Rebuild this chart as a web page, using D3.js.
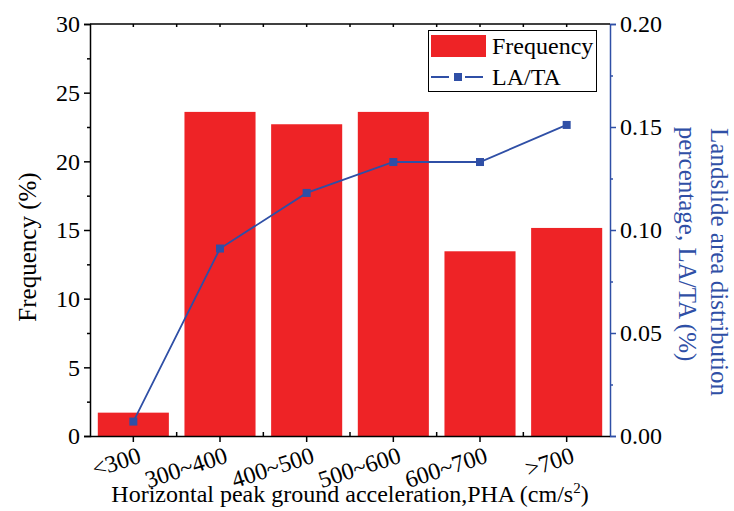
<!DOCTYPE html>
<html><head><meta charset="utf-8">
<script src="https://cdn.jsdelivr.net/npm/d3@7"></script>
<style>body{margin:0;background:#fff}svg{display:block}</style>
</head><body><svg id="c" width="734" height="511"></svg>
<script>
const categories = ["<300","300~400","400~500","500~600","600~700",">700"];
const frequency = [1.7, 23.6, 22.7, 23.6, 13.45, 15.15];
const lata = [0.007, 0.091, 0.118, 0.133, 0.133, 0.151];
const leftTicks = [0,5,10,15,20,25,30];
const rightTicks = [0,0.05,0.10,0.15,0.20];

const svg = d3.select("#c");
const L = 90, R = 610, T = 24, B = 436;
const red = "#ee2326", blue = "#2f4fa6";
const font = "Liberation Serif";
const fs = 24, fsT = 25;

const x = d3.scaleBand().domain(categories).range([L, R]).paddingInner(0.18).paddingOuter(0.09);
const xc = d3.scaleBand().domain(categories).range([L, R]).padding(0);
const yL = d3.scaleLinear().domain([0,30]).range([B, T]);
const yR = d3.scaleLinear().domain([0,0.20]).range([B, T]);

// bars
svg.append("g").selectAll("rect").data(categories).join("rect")
  .attr("x", d => x(d)).attr("width", x.bandwidth())
  .attr("y", (d,i) => yL(frequency[i])).attr("height", (d,i) => B - yL(frequency[i]))
  .attr("fill", red);

// left axis
const gl = svg.append("g").attr("transform", `translate(${L},0)`)
  .call(d3.axisLeft(yL).tickValues(leftTicks).tickSize(6).tickPadding(4).tickFormat(d3.format("d")));
gl.selectAll("text").attr("font-family", font).attr("font-size", fs).attr("fill", "#000");
gl.select(".domain").attr("stroke", "#000").attr("stroke-width", 1.5);
gl.selectAll("line").attr("stroke-width", 1.5);
svg.append("g").attr("transform", `translate(${L},0)`)
  .call(d3.axisLeft(yL).tickValues(d3.range(2.5,30,5)).tickSize(3).tickFormat(""))
  .call(g => g.select(".domain").remove()).selectAll("line").attr("stroke-width", 1.5);

// right axis
const gr = svg.append("g").attr("transform", `translate(${R},0)`)
  .call(d3.axisRight(yR).tickValues(rightTicks).tickSize(6).tickPadding(4).tickFormat(d3.format(".2f")));
gr.selectAll("text").attr("font-family", font).attr("font-size", fs).attr("fill", "#000");
gr.select(".domain").attr("stroke", blue).attr("stroke-width", 1.5);
gr.selectAll("line").attr("stroke", blue).attr("stroke-width", 1.5);
svg.append("g").attr("transform", `translate(${R},0)`)
  .call(d3.axisRight(yR).tickValues(d3.range(0.025,0.2,0.05)).tickSize(3).tickFormat(""))
  .call(g => g.select(".domain").remove()).selectAll("line").attr("stroke", blue).attr("stroke-width", 1.5);

// bottom axis
const gb = svg.append("g").attr("transform", `translate(0,${B})`)
  .call(d3.axisBottom(xc).tickSize(6).tickFormat(""));
gb.select(".domain").attr("stroke-width", 1.5).attr("d", `M${L},0.5H${R}`);
gb.selectAll("line").attr("stroke-width", 1.5);
svg.append("g").selectAll("line").data(categories.slice(1)).join("line")
  .attr("x1", d => xc(d)).attr("x2", d => xc(d)).attr("y1", B).attr("y2", B - 4)
  .attr("stroke", "#000").attr("stroke-width", 1.5);
svg.append("g").selectAll("text").data(categories).join("text")
  .attr("transform", d => `translate(${xc(d) + xc.bandwidth()/2 + 9},${B + 26}) rotate(-18)`)
  .attr("text-anchor", "end").attr("font-family", font).attr("font-size", fs).text(d => d);

// top axis
svg.append("line").attr("x1", L).attr("x2", R).attr("y1", T).attr("y2", T).attr("stroke", "#000").attr("stroke-width", 1.5);
const topTicks = categories.map(d => xc(d) + xc.bandwidth()/2).concat(categories.slice(1).map(d => xc(d)));
svg.append("g").selectAll("line").data(topTicks).join("line")
  .attr("x1", d => d).attr("x2", d => d).attr("y1", T).attr("y2", T + 3)
  .attr("stroke", "#000").attr("stroke-width", 1.5);

// line series
const cx = d => xc(d) + xc.bandwidth()/2;
const line = d3.line().x((d,i) => cx(categories[i])).y(d => yR(d));
svg.append("path").datum(lata).attr("d", line).attr("fill", "none").attr("stroke", blue).attr("stroke-width", 1.8);
svg.append("g").selectAll("rect").data(lata).join("rect")
  .attr("x", (d,i) => cx(categories[i]) - 4).attr("y", d => yR(d) - 4)
  .attr("width", 8).attr("height", 8).attr("fill", blue);

// legend
const lg = svg.append("g");
lg.append("rect").attr("x", 428.5).attr("y", 30.5).attr("width", 168).attr("height", 61)
  .attr("fill", "#fff").attr("stroke", "#000").attr("stroke-width", 1);
lg.append("rect").attr("x", 431).attr("y", 35).attr("width", 55).attr("height", 22).attr("fill", red);
lg.append("text").attr("x", 492).attr("y", 54).attr("font-family", font).attr("font-size", fs).text("Frequency");
lg.append("line").attr("x1", 431).attr("x2", 485).attr("y1", 77).attr("y2", 77)
  .attr("stroke", blue).attr("stroke-width", 1.8).attr("stroke-dasharray", "18,8,0,8,18");
lg.append("rect").attr("x", 454).attr("y", 73).attr("width", 8).attr("height", 8).attr("fill", blue);
lg.append("text").attr("x", 492).attr("y", 85).attr("font-family", font).attr("font-size", fs).text("LA/TA");

// axis titles
svg.append("text").attr("transform", `translate(36,247) rotate(-90)`)
  .attr("text-anchor", "middle").attr("font-family", font).attr("font-size", fsT).text("Frequency (%)");
svg.append("text").attr("transform", `translate(711,262) rotate(90)`)
  .attr("text-anchor", "middle").attr("font-family", font).attr("font-size", fsT).attr("fill", blue)
  .text("Landslide area distribution");
svg.append("text").attr("transform", `translate(679,244) rotate(90)`)
  .attr("text-anchor", "middle").attr("font-family", font).attr("font-size", fsT).attr("fill", blue)
  .text("percentage, LA/TA (%)");
const xt = svg.append("text").attr("x", (L+R)/2).attr("y", 502).attr("text-anchor", "middle")
  .attr("font-family", font).attr("font-size", 24);
xt.append("tspan").text("Horizontal peak ground acceleration,PHA (cm/s");
xt.append("tspan").attr("dy", -9).attr("font-size", 15).text("2");
xt.append("tspan").attr("dy", 9).text(")");
</script></body></html>
